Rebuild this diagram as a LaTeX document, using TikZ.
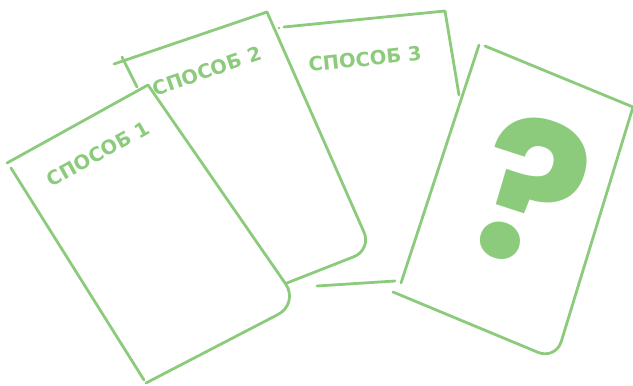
\documentclass[tikz,border=0pt]{standalone}
\usepackage{fontspec}
\newfontfamily\labelfont{DejaVu Sans}
\newfontfamily\qfont{Poppins}
\definecolor{cardgreen}{RGB}{140,203,124}
\begin{document}
\begin{tikzpicture}[x=1pt,y=-1pt,
  cardline/.style={draw=cardgreen,line width=2.8pt,line cap=round,line join=round},
  cardlabel/.style={text=cardgreen,font=\labelfont\bfseries\fontsize{19.5}{22}\selectfont,inner sep=0pt},
  qmark/.style={text=cardgreen,font=\qfont\bfseries\fontsize{198}{198}\selectfont,inner sep=0pt}]
\useasboundingbox (0,0) rectangle (633,386);
% card 1
\draw[cardline] (7,163) -- (148,85);
\draw[cardline,rounded corners=24pt] (148,85) -- (299.2,303.5) -- (146,383);
\draw[cardline] (11,168) -- (144,380);
% card 2
\draw[cardline] (114,64) -- (267,12);
\draw[cardline] (122,57) -- (137,87);
\draw[cardline,rounded corners=19pt] (267,12) -- (371.7,249.7) -- (287,283);
% card 3
\fill[cardgreen] (279,28) circle (1.3pt);
\draw[cardline] (284,27) -- (445,11) -- (459,95);
\draw[cardline] (317,286) -- (395,281);
% card 4
\draw[cardline] (479,45) -- (401,283);
\draw[cardline] (485,46) -- (633,107);
\draw[cardline,rounded corners=19pt] (633,107) -- (555.7,359.7) -- (393,292);
% labels
\node[cardlabel,rotate=29] (l1) at (98,154) {СПОСОБ 1};
\node[cardlabel,rotate=19] (l2) at (207,71) {СПОСОБ 2};
\node[cardlabel,rotate=6] (l3) at (365,59) {СПОСОБ 3};
\node[qmark,rotate=-18] (q) at (531,192) {?};
\end{tikzpicture}
\end{document}
